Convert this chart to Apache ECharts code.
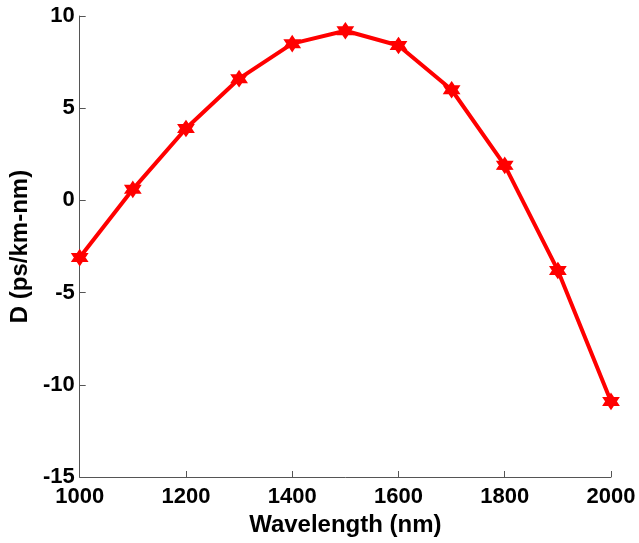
<!DOCTYPE html>
<html>
<head>
<meta charset="utf-8">
<script src="https://cdn.jsdelivr.net/npm/echarts@6/dist/echarts.min.js"></script>
<style>
  html, body { margin: 0; padding: 0; background: #fff; }
  #chart { width: 639px; height: 543px; }
</style>
</head>
<body>
<div id="chart"></div>
<script>
// wavelength (nm) and dispersion D (ps/km-nm)
var wavelengths = [1000, 1100, 1200, 1300, 1400, 1500, 1600, 1700, 1800, 1900, 2000];
var dispersion = [-3.1, 0.6, 3.9, 6.6, 8.5, 9.2, 8.4, 6.0, 1.9, -3.8, -10.9];

var chart = echarts.init(document.getElementById('chart'));

// hexagram marker, roughly like matlab's 'h'
var starPath = 'path://M50,0 L64.5,24.9 L93.3,25 L79,50 L93.3,75 L64.5,75.1 L50,100 L35.5,75.1 L6.7,75 L21,50 L6.7,25 L35.5,24.9 Z';

var axisFont = { fontFamily: 'Liberation Sans, Arial, sans-serif', fontWeight: 'bold', color: '#000' };

var option = {
  animation: false,
  grid: { left: 78, right: 28, top: 16, bottom: 66 },
  xAxis: {
    type: 'value',
    min: 1000, max: 2000, interval: 200,
    name: 'Wavelength (nm)',
    nameLocation: 'middle',
    nameGap: 32,
    nameTextStyle: Object.assign({ fontSize: 24 }, axisFont),
    axisLine: { show: true, onZero: false, lineStyle: { color: '#555', width: 1 } },
    axisTick: { show: true, inside: true, length: 6, lineStyle: { color: '#555' } },
    axisLabel: Object.assign({ fontSize: 22, margin: 9, formatter: function (v) { return String(v); } }, axisFont),
    splitLine: { show: false }
  },
  yAxis: {
    type: 'value',
    min: -15, max: 10, interval: 5,
    name: 'D (ps/km-nm)',
    nameLocation: 'middle',
    nameGap: 44,
    nameTextStyle: Object.assign({ fontSize: 24 }, axisFont),
    axisLine: { show: true, onZero: false, lineStyle: { color: '#555', width: 1 } },
    axisTick: { show: true, inside: true, length: 6, lineStyle: { color: '#555' } },
    axisLabel: Object.assign({ fontSize: 22, margin: 5 }, axisFont),
    splitLine: { show: false }
  },
  series: [{
    type: 'line',
    data: wavelengths.map(function (w, i) { return [w, dispersion[i]]; }),
    lineStyle: { color: '#ff0000', width: 4 },
    itemStyle: { color: '#ff0000', borderColor: '#ff0000', borderWidth: 1.5 },
    symbol: starPath,
    symbolSize: 15,
    showAllSymbol: true
  }]
};

chart.setOption(option);
</script>
</body>
</html>
